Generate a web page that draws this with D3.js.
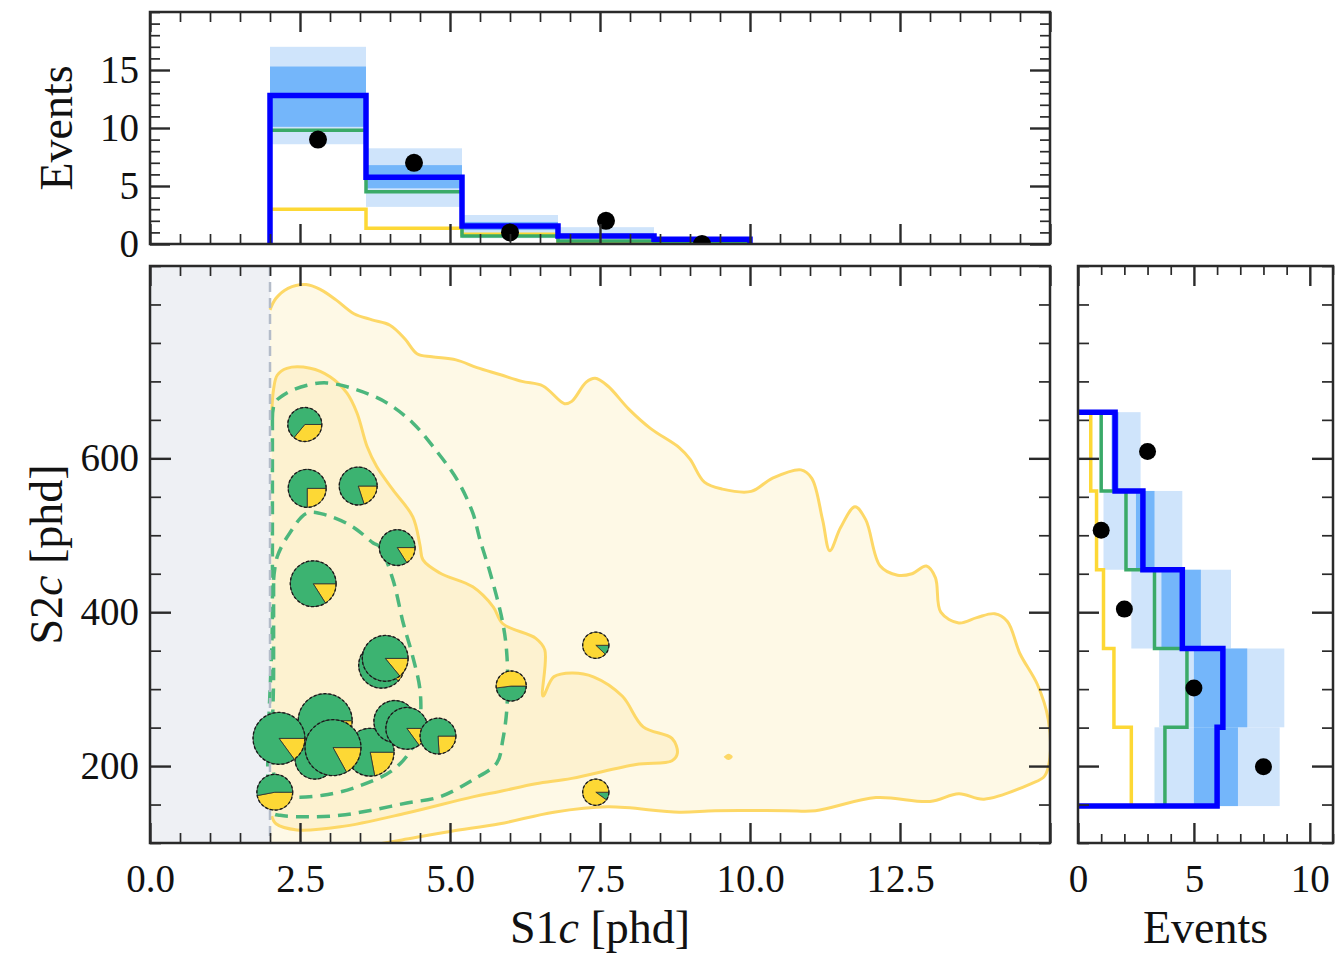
<!DOCTYPE html>
<html><head><meta charset="utf-8">
<script src="https://cdn.jsdelivr.net/npm/d3@7"></script>
<style>
body{margin:0;background:#fff;}
svg{display:block;font-family:"Liberation Serif","DejaVu Serif",serif;}
</style></head><body>
<svg id="chart" width="1339" height="956"></svg>
<script>
// ================= DATA =================
// S1c projection (top panel)
const s1Edges   = [2.0, 3.6, 5.2, 6.8, 8.4, 10.0];
const s1Total   = [12.8, 5.75, 1.55, 0.7, 0.4];
const s1Band1Lo = [10.1, 4.8, 1.2, 0.5, 0.25];
const s1Band1Hi = [15.3, 6.8, 1.9, 0.9, 0.5];
const s1Band2Lo = [8.6, 3.2, 0.5, 0.2, 0.1];
const s1Band2Hi = [17.0, 8.25, 2.5, 1.45, 0.6];
const s1Green   = [9.8, 4.5, 0.7, 0.25, 0.12];
const s1Yellow  = [3.0, 1.35, 0.85, 0.1, 0.05];
const s1DataX   = [2.8, 4.4, 6.0, 7.6, 9.2];
const s1DataN   = [9, 7, 1, 2, 0];

// S2c projection (right panel)
const s2Edges   = [148, 250.4, 352.8, 455.2, 557.6, 660];
const s2Total   = [6.0, 6.25, 4.5, 2.8, 1.6];
const s2Band1Lo = [5.0, 5.0, 3.6, 2.5, 1.45];
const s2Band1Hi = [6.9, 7.3, 5.3, 3.3, 1.75];
const s2Band2Lo = [3.3, 3.5, 2.3, 1.1, 1.5];
const s2Band2Hi = [8.7, 8.9, 6.6, 4.5, 2.7];
const s2Green   = [3.75, 4.7, 3.3, 2.07, 1.0];
const s2Yellow  = [2.3, 1.55, 1.1, 0.8, 0.55];
const s2DataY   = [199, 301.6, 404, 506.4, 608.8];
const s2DataN   = [8, 5, 2, 1, 3];

// Events (main panel): S1c, S2c, weight (marker size), yellow fraction
const evS1     = [2.58, 2.62, 3.47, 4.12, 2.72, 3.86, 3.92, 6.02, 7.43, 7.43, 2.75, 2.92, 3.67, 2.15, 3.05, 4.08, 4.28, 4.80, 2.08];
const evS2     = [644, 561, 564, 484, 437, 331, 340, 304, 357, 166, 209, 259, 218, 236, 224, 258, 249, 239, 166];
const evWeight = [0.37, 0.46, 0.46, 0.41, 0.67, 0.67, 0.67, 0.29, 0.22, 0.22, 0.51, 0.93, 0.73, 0.86, 1.0, 0.56, 0.56, 0.41, 0.41];
const evYellow = [0.36, 0.25, 0.2, 0.16, 0.16, 0.12, 0.14, 0.52, 0.88, 0.9, 0.12, 0.12, 0.22, 0.15, 0.17, 0.12, 0.15, 0.24, 0.47];

// Background model contours (S1c, S2c)
const bgOuter = [[2.0,793],[2.1,808],[2.3,821],[2.6,826],[2.85,819],[3.1,806],[3.4,788],[3.7,780],[4.0,773],[4.25,755],[4.45,736],[4.7,732],[5.1,728],[5.45,718],[5.83,709],[6.2,700],[6.55,694],[6.91,671],[7.03,674],[7.27,699],[7.42,704],[7.63,694],[7.98,664],[8.34,639],[8.82,614],[9.0,599],[9.24,569],[9.54,560],[10.02,557],[10.37,574],[10.85,585],[11.03,574],[11.21,520],[11.33,480],[11.51,510],[11.75,537],[11.93,520],[12.17,460],[12.46,448],[12.7,450],[12.94,460],[13.09,445],[13.18,400],[13.48,386],[13.78,393],[14.08,398],[14.29,388],[14.5,346],[14.79,306],[14.97,261],[15.0,212],[14.91,187],[14.68,177],[13.9,157],[13.48,164],[13.0,154],[12.1,159],[11.09,142],[10.61,142],[9.42,142],[8.82,140],[7.63,147],[6.73,140],[5.83,125],[5.0,115],[4.2,104],[3.4,93],[2.6,83],[2.0,78]];
const bgInner = [[2.03,660],[2.06,690],[2.12,708],[2.28,717],[2.67,717],[3.0,706],[3.28,685],[3.45,659],[3.62,615],[3.78,589],[4.05,559],[4.38,524],[4.5,487],[4.55,468],[4.83,451],[5.38,433],[5.72,407],[5.88,385],[6.43,366],[6.58,351],[6.55,291],[6.73,316],[7.03,321],[7.39,316],[7.87,291],[8.22,251],[8.7,236],[8.79,217],[8.7,207],[8.1,202],[7.03,184],[6.43,177],[5.83,167],[5.38,160],[4.28,139],[3.17,121],[2.45,117],[2.1,125],[2.03,135]];
const bgIsland = [[9.58,212],[9.64,215],[9.7,212],[9.64,209],[9.58,212]];
// Signal model contours (S1c, S2c)
const sigOuter = [[2.04,650],[2.08,672],[2.28,685],[2.62,695],[2.95,698],[3.45,689],[3.95,672],[4.38,646],[4.72,615],[5.12,572],[5.38,529],[5.5,494],[5.67,451],[5.88,386],[5.95,342],[5.95,277],[5.88,234],[5.78,204],[5.38,182],[4.83,160],[4.28,152],[3.72,143],[3.17,136],[2.62,134],[2.17,136],[2.04,140],[2.04,400],[2.04,650]];
const sigInner = [[2.06,442],[2.12,472],[2.33,503],[2.62,529],[2.95,526],[3.38,511],[3.72,490],[3.83,485],[4.05,442],[4.22,386],[4.38,342],[4.5,299],[4.5,260],[4.38,225],[4.05,195],[3.45,173],[2.88,162],[2.38,160],[2.17,165],[2.06,191],[2.06,320],[2.06,442]];
const s1Threshold = 2.0;

// tick values
const xMajor = [0, 2.5, 5, 7.5, 10, 12.5, 15];
const xLabels = [0, 2.5, 5, 7.5, 10, 12.5];
const yMajor = [200, 400, 600];
const topMajor = [0, 5, 10, 15];
const rightMajor = [0, 5, 10];

// ================= LAYOUT =================
const M = {l:150, r:1050, t:266, b:843};
const TOP = {t:12, b:244};
const RP = {l:1078, r:1333};
const COL = {blue:"#0000ff", band1:"#74b6fa", band2:"#cfe4fb", green:"#3aaa68", yellow:"#fdd835",
  pieGreen:"#3cb371", pieYellow:"#fdd835", cLine:"#fdd867", cOuter:"#fef9e6", cInner:"#fdf2d0", sig:"#4cb77d",
  grey:"#eef0f4", greyLine:"#b4bcc9", frame:"#2a2a2a"};

const x = d3.scaleLinear().domain([0,15]).range([M.l, M.r]);
const y = d3.scaleLinear().domain([100,850]).range([M.b, M.t]);
const yTop = d3.scaleLinear().domain([0,20]).range([TOP.b, TOP.t]);
const xR = d3.scaleLinear().domain([0,11]).range([RP.l, RP.r]);
const rScale = d3.scaleSqrt().domain([0,1]).range([0,28]);

const svg = d3.select("#chart");
const defs = svg.append("defs");
function clip(id,x0,y0,x1,y1){defs.append("clipPath").attr("id",id).append("rect").attr("x",x0).attr("y",y0).attr("width",x1-x0).attr("height",y1-y0);}
clip("cMain", M.l, M.t, M.r, M.b);
clip("cTop", M.l, TOP.t, M.r, TOP.b);
clip("cRight", RP.l, M.t, RP.r, M.b);

// ================= MAIN PANEL =================
const gMain = svg.append("g").attr("clip-path","url(#cMain)");
gMain.append("rect").attr("x",x(0)).attr("y",M.t).attr("width",x(s1Threshold)-x(0)).attr("height",M.b-M.t).attr("fill",COL.grey);

const cl = d3.line().x(d=>x(d[0])).y(d=>y(d[1])).curve(d3.curveCatmullRom.alpha(0.5));
gMain.append("path").attr("d", cl(bgOuter)+"Z").attr("fill",COL.cOuter);
gMain.append("path").attr("d", cl(bgInner)+"Z").attr("fill",COL.cInner);
gMain.append("path").attr("d", cl(bgOuter)).attr("fill","none").attr("stroke",COL.cLine).attr("stroke-width",3).attr("stroke-linejoin","round");
gMain.append("path").attr("d", cl(bgInner)).attr("fill","none").attr("stroke",COL.cLine).attr("stroke-width",3).attr("stroke-linejoin","round");
gMain.append("path").attr("d", cl(bgIsland)+"Z").attr("fill",COL.cLine).attr("stroke",COL.cLine).attr("stroke-width",1.5);
[sigOuter, sigInner].forEach(c=>{
  gMain.append("path").attr("d", cl(c)).attr("fill","none").attr("stroke",COL.sig).attr("stroke-width",3.5).attr("stroke-dasharray","13,8");
});
gMain.append("line").attr("x1",x(s1Threshold)).attr("x2",x(s1Threshold)).attr("y1",M.t).attr("y2",M.b)
  .attr("stroke",COL.greyLine).attr("stroke-width",2.5).attr("stroke-dasharray","10,6");

// pies
const arc = d3.arc().innerRadius(0);
evS1.forEach((s1,i)=>{
  const r = rScale(evWeight[i]);
  const g = gMain.append("g").attr("transform",`translate(${x(s1)},${y(evS2[i])})`);
  const wedges = [{c:COL.pieYellow, f:evYellow[i]},{c:COL.pieGreen, f:1-evYellow[i]}].sort((a,b)=>a.f-b.f);
  let a0 = Math.PI/2;
  wedges.forEach(w=>{
    const a1 = a0 + 2*Math.PI*w.f;
    g.append("path").attr("d", arc({outerRadius:r, startAngle:a0, endAngle:a1})).attr("fill",w.c).attr("stroke","#2d2d2d").attr("stroke-width",0.8);
    a0 = a1;
  });
  g.append("circle").attr("r",r).attr("fill","none").attr("stroke","#1a1a1a").attr("stroke-width",1.3).attr("stroke-dasharray","3,2");
});

// ================= TOP PANEL =================
const gTop = svg.append("g").attr("clip-path","url(#cTop)");
function stairs(edges, vals){const p=[[edges[0],0]];vals.forEach((v,i)=>{p.push([edges[i],v]);p.push([edges[i+1],v]);});p.push([edges[edges.length-1],0]);return p;}
const lineTop = d3.line().x(d=>x(d[0])).y(d=>yTop(d[1]));
function bandsTop(lo,hi,color){
  gTop.selectAll(null).data(lo).enter().append("rect")
    .attr("x",(d,i)=>x(s1Edges[i])).attr("width",(d,i)=>x(s1Edges[i+1])-x(s1Edges[i]))
    .attr("y",(d,i)=>yTop(hi[i])).attr("height",(d,i)=>yTop(lo[i])-yTop(hi[i])).attr("fill",color);
}
bandsTop(s1Band2Lo,s1Band2Hi,COL.band2);
bandsTop(s1Band1Lo,s1Band1Hi,COL.band1);
gTop.append("path").attr("d",lineTop(stairs(s1Edges,s1Yellow))).attr("fill","none").attr("stroke",COL.yellow).attr("stroke-width",3.5);
gTop.append("path").attr("d",lineTop(stairs(s1Edges,s1Green))).attr("fill","none").attr("stroke",COL.green).attr("stroke-width",3.5);
gTop.append("path").attr("d",lineTop(stairs(s1Edges,s1Total))).attr("fill","none").attr("stroke",COL.blue).attr("stroke-width",5.5);
gTop.selectAll(null).data(s1DataN).enter().append("circle").attr("cx",(d,i)=>x(s1DataX[i])).attr("cy",d=>yTop(d)).attr("r",9).attr("fill","#000");

// ================= RIGHT PANEL =================
const gR = svg.append("g").attr("clip-path","url(#cRight)");
const lineR = d3.line().x(d=>xR(d[1])).y(d=>y(d[0]));
function bandsR(lo,hi,color){
  gR.selectAll(null).data(lo).enter().append("rect")
    .attr("y",(d,i)=>y(s2Edges[i+1])).attr("height",(d,i)=>y(s2Edges[i])-y(s2Edges[i+1]))
    .attr("x",(d,i)=>xR(lo[i])).attr("width",(d,i)=>xR(hi[i])-xR(lo[i])).attr("fill",color);
}
bandsR(s2Band2Lo,s2Band2Hi,COL.band2);
bandsR(s2Band1Lo,s2Band1Hi,COL.band1);
gR.append("path").attr("d",lineR(stairs(s2Edges,s2Yellow))).attr("fill","none").attr("stroke",COL.yellow).attr("stroke-width",3.5);
gR.append("path").attr("d",lineR(stairs(s2Edges,s2Green))).attr("fill","none").attr("stroke",COL.green).attr("stroke-width",3.5);
gR.append("path").attr("d",lineR(stairs(s2Edges,s2Total))).attr("fill","none").attr("stroke",COL.blue).attr("stroke-width",5.5);
gR.selectAll(null).data(s2DataN).enter().append("circle").attr("cx",d=>xR(d)).attr("cy",(d,i)=>y(s2DataY[i])).attr("r",8.5).attr("fill","#000");

// ================= AXES =================
function tickSet(axisGen, scale, vals, len, width, tr, fmt, pad){
  const ax = axisGen(scale).tickValues(vals).tickSize(-len).tickPadding(pad||8).tickFormat(fmt||(()=>""));
  const g = svg.append("g").attr("transform",tr).call(ax);
  g.attr("font-size",null).attr("font-family",null);
  g.select(".domain").remove();
  g.selectAll("line").attr("stroke",COL.frame).attr("stroke-width",width);
  g.selectAll("text").attr("fill","#111").attr("font-size",39);
  return g;
}
const minorOf = (lo,hi,step,major)=>d3.range(lo,hi+1e-9,step).filter(v=>!major.some(m=>Math.abs(m-v)<1e-9));
const xMinor = minorOf(0,15,0.5,xMajor);
const yMinor = minorOf(100,850,50,yMajor);
const topMinor = minorOf(0,20,1,topMajor);
const rMinor = minorOf(0,11,1,rightMajor);
const fmtX = d=>xLabels.includes(d)?d3.format(".1f")(d):"";

// main
tickSet(d3.axisBottom,x,xMinor,10,1.7,`translate(0,${M.b})`);
tickSet(d3.axisBottom,x,xMajor,20,2.4,`translate(0,${M.b})`,fmtX,21);
tickSet(d3.axisTop,x,xMinor,10,1.7,`translate(0,${M.t})`);
tickSet(d3.axisTop,x,xMajor,20,2.4,`translate(0,${M.t})`);
tickSet(d3.axisLeft,y,yMinor,11,1.7,`translate(${M.l},0)`);
tickSet(d3.axisLeft,y,yMajor,21,2.4,`translate(${M.l},0)`,d=>d,11);
tickSet(d3.axisRight,y,yMinor,11,1.7,`translate(${M.r},0)`);
tickSet(d3.axisRight,y,yMajor,21,2.4,`translate(${M.r},0)`);
// top
tickSet(d3.axisBottom,x,xMinor,10,1.7,`translate(0,${TOP.b})`);
tickSet(d3.axisBottom,x,xMajor,20,2.4,`translate(0,${TOP.b})`);
tickSet(d3.axisTop,x,xMinor,10,1.7,`translate(0,${TOP.t})`);
tickSet(d3.axisTop,x,xMajor,20,2.4,`translate(0,${TOP.t})`);
tickSet(d3.axisLeft,yTop,topMinor,10,1.7,`translate(${M.l},0)`);
tickSet(d3.axisLeft,yTop,topMajor,20,2.4,`translate(${M.l},0)`,d=>d,11);
tickSet(d3.axisRight,yTop,topMinor,10,1.7,`translate(${M.r},0)`);
tickSet(d3.axisRight,yTop,topMajor,20,2.4,`translate(${M.r},0)`);
// right
tickSet(d3.axisBottom,xR,rMinor,9,1.7,`translate(0,${M.b})`);
tickSet(d3.axisBottom,xR,rightMajor,20,2.4,`translate(0,${M.b})`,d=>d,21);
tickSet(d3.axisTop,xR,rMinor,9,1.7,`translate(0,${M.t})`);
tickSet(d3.axisTop,xR,rightMajor,20,2.4,`translate(0,${M.t})`);
tickSet(d3.axisLeft,y,yMinor,11,1.7,`translate(${RP.l},0)`);
tickSet(d3.axisLeft,y,yMajor,21,2.4,`translate(${RP.l},0)`);
tickSet(d3.axisRight,y,yMinor,11,1.7,`translate(${RP.r},0)`);
tickSet(d3.axisRight,y,yMajor,21,2.4,`translate(${RP.r},0)`);

// frames
[[M.l,M.t,M.r,M.b],[M.l,TOP.t,M.r,TOP.b],[RP.l,M.t,RP.r,M.b]].forEach(f=>{
  svg.append("rect").attr("x",f[0]).attr("y",f[1]).attr("width",f[2]-f[0]).attr("height",f[3]-f[1])
    .attr("fill","none").attr("stroke",COL.frame).attr("stroke-width",2.5);
});

// axis titles
const t1 = svg.append("text").attr("x",(M.l+M.r)/2).attr("y",943).attr("text-anchor","middle").attr("font-size",46).attr("fill","#111");
t1.append("tspan").text("S1");
t1.append("tspan").attr("font-style","italic").text("c");
t1.append("tspan").text(" [phd]");
svg.append("text").attr("x",(RP.l+RP.r)/2).attr("y",943).attr("text-anchor","middle").attr("font-size",46).attr("fill","#111").text("Events");
const t2 = svg.append("text").attr("transform",`translate(62,${(M.t+M.b)/2}) rotate(-90)`).attr("text-anchor","middle").attr("font-size",46).attr("fill","#111");
t2.append("tspan").text("S2");
t2.append("tspan").attr("font-style","italic").text("c");
t2.append("tspan").text(" [phd]");
svg.append("text").attr("transform",`translate(72,${(TOP.t+TOP.b)/2}) rotate(-90)`).attr("text-anchor","middle").attr("font-size",46).attr("fill","#111").text("Events");
</script>
</body></html>
